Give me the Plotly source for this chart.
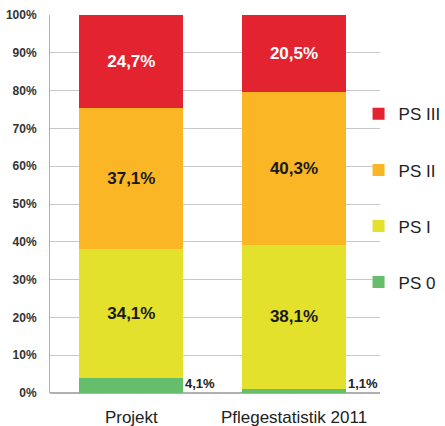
import plotly.graph_objects as go

categories = ["Projekt", "Pflegestatistik 2011"]
series_names = ["PS 0", "PS I", "PS II", "PS III"]
ps0 = [4.1, 1.1]
ps1 = [34.1, 38.1]
ps2 = [37.1, 40.3]
ps3 = [24.7, 20.5]
y_ticks = [0, 10, 20, 30, 40, 50, 60, 70, 80, 90, 100]
y_tick_labels = [f"{t}%" for t in y_ticks]

colors = ["#66BD6C", "#E3E12C", "#FBB625", "#E42330"]
text_colors = [None, "#1a1a1a", "#1a1a1a", "#FFFFFF"]
FONT = "Liberation Sans, Arial, sans-serif"

def fmt(v):
    return f"{v:.1f}".replace(".", ",") + "%"

fig = go.Figure()
for i, (name, vals) in enumerate(zip(series_names, [ps0, ps1, ps2, ps3])):
    show_text = i > 0
    fig.add_trace(go.Bar(
        x=categories, y=vals, name=name,
        marker=dict(color=colors[i], line=dict(width=0)),
        text=[fmt(v) for v in vals] if show_text else None,
        textposition="inside" if show_text else "none",
        insidetextanchor="middle",
        textangle=0,
        constraintext="none",
        textfont=dict(family=FONT, size=17,
                      color=text_colors[i] or "#000", weight="bold"),
        legendgroup=name,
        legendrank=10 - i,
        hoverinfo="skip",
    ))

# outside labels for PS 0
for cat, v in zip(categories, ps0):
    fig.add_annotation(
        x=cat, y=0, text=fmt(v), showarrow=False,
        xanchor="left", yanchor="bottom", xshift=52, yshift=0,
        font=dict(family=FONT, size=13, color="#222", weight="bold"),
    )

fig.update_layout(
    barmode="stack",
    bargap=0.36,
    width=445, height=426,
    margin=dict(l=50, r=65, t=15, b=33, autoexpand=False),
    paper_bgcolor="white", plot_bgcolor="white",
    showlegend=True,
    legend=dict(
        x=0.935, y=0.785, xanchor="left", yanchor="top",
        traceorder="grouped",
        tracegroupgap=31,
        font=dict(family=FONT, size=17, color="#222"),
        itemwidth=30,
        bgcolor="rgba(0,0,0,0)",
    ),
    xaxis=dict(
        tickfont=dict(family=FONT, size=17, color="#222"),
        showline=False, showgrid=False, ticks="",
        ticklabelstandoff=12,
        automargin=False,
    ),
    yaxis=dict(
        range=[0, 100],
        tickvals=y_ticks, ticktext=y_tick_labels,
        tickfont=dict(family=FONT, size=12, color="#333", weight="bold"),
        showgrid=True, gridcolor="#C8C8C8", gridwidth=1,
        showline=True, linecolor="#B0B0B0", linewidth=1,
        zeroline=True, zerolinecolor="#B0B0B0",
        ticks="", ticklabelstandoff=10,
        automargin=False,
    ),
    font=dict(family=FONT),
)

fig.write_html(
    "out.html",
    config={"displayModeBar": False},
    post_script="document.body.style.margin='0px';document.body.style.overflow='hidden';",
)
